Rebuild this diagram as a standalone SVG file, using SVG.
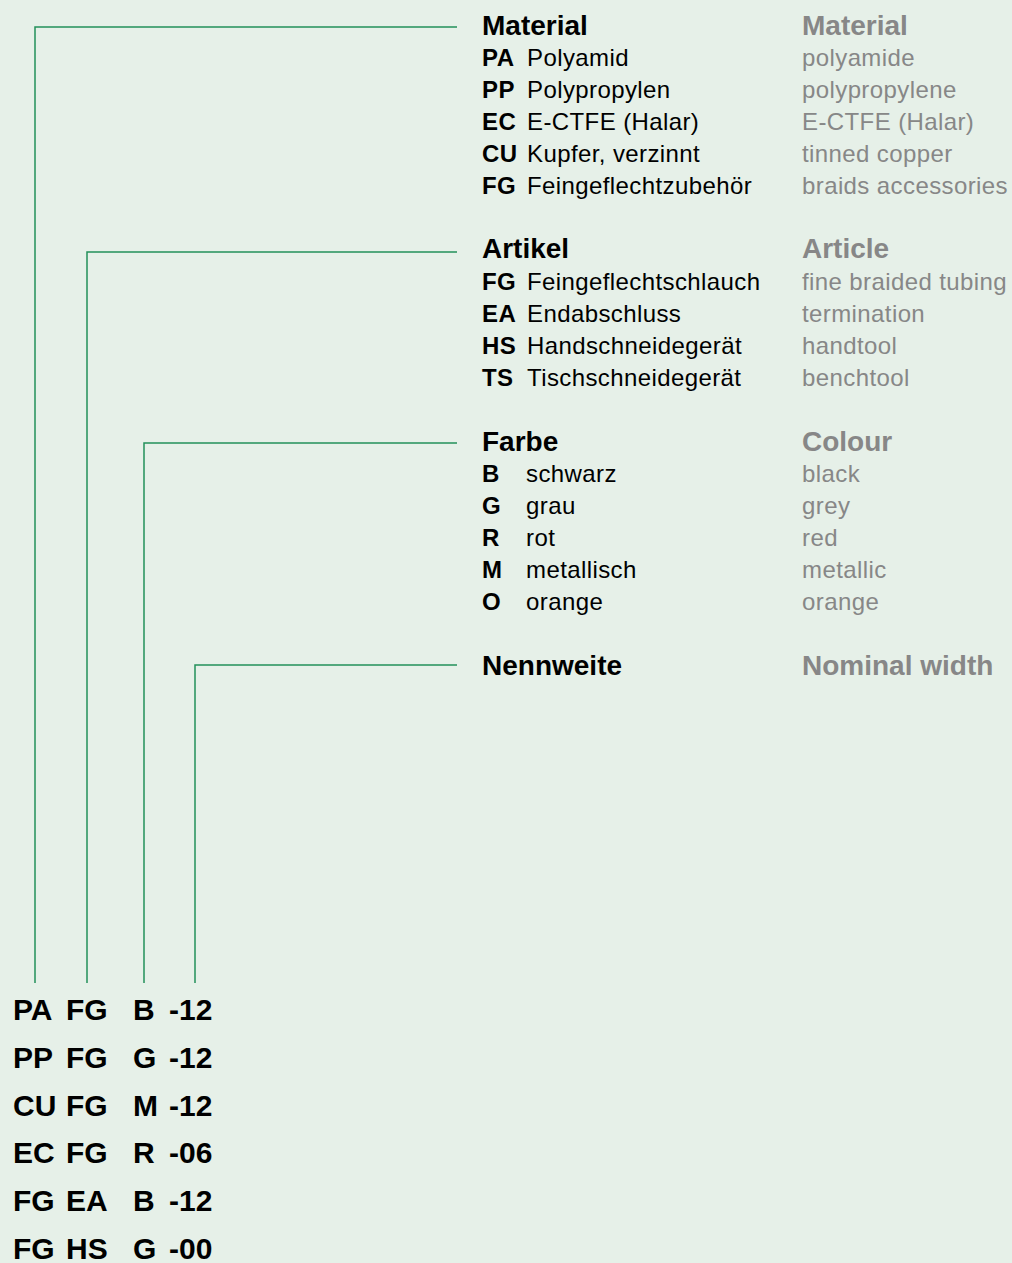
<svg xmlns="http://www.w3.org/2000/svg" width="1012" height="1263" viewBox="0 0 1012 1263">
<style>
text{font-family:"Liberation Sans",Arial,Helvetica,sans-serif}
.h{font-size:28px;font-weight:bold;fill:#000}
.hg{font-size:28px;font-weight:bold;fill:#878787}
.c{font-size:24px;font-weight:bold;fill:#000;letter-spacing:0.4px}
.t{font-size:24px;fill:#000;letter-spacing:0.4px}
.g{font-size:24px;fill:#878787;letter-spacing:0.4px}
.code{font-size:30px;font-weight:bold;fill:#000}
.conn{fill:none;stroke:#23905a;stroke-width:1.5}
</style>
<rect width="1012" height="1263" fill="#e6f0e8"/>
<g id="connectors">
<path class="conn" d="M35,983 V27 H457"/>
<path class="conn" d="M87,983 V252 H457"/>
<path class="conn" d="M144,983 V443 H457"/>
<path class="conn" d="M195,983 V665 H457"/>
</g>
<g id="material">
<text class="h" x="482" y="35">Material</text>
<text class="hg" x="802" y="35">Material</text>
<text class="c" x="482" y="66">PA</text><text class="t" x="527" y="66">Polyamid</text><text class="g" x="802" y="66">polyamide</text>
<text class="c" x="482" y="98">PP</text><text class="t" x="527" y="98">Polypropylen</text><text class="g" x="802" y="98">polypropylene</text>
<text class="c" x="482" y="130">EC</text><text class="t" x="527" y="130">E-CTFE (Halar)</text><text class="g" x="802" y="130">E-CTFE (Halar)</text>
<text class="c" x="482" y="162">CU</text><text class="t" x="527" y="162">Kupfer, verzinnt</text><text class="g" x="802" y="162">tinned copper</text>
<text class="c" x="482" y="194">FG</text><text class="t" x="527" y="194">Feingeflechtzubehör</text><text class="g" x="802" y="194">braids accessories</text>
</g>
<g id="artikel">
<text class="h" x="482" y="258">Artikel</text>
<text class="hg" x="802" y="258">Article</text>
<text class="c" x="482" y="290">FG</text><text class="t" x="527" y="290">Feingeflechtschlauch</text><text class="g" x="802" y="290">fine braided tubing</text>
<text class="c" x="482" y="322">EA</text><text class="t" x="527" y="322">Endabschluss</text><text class="g" x="802" y="322">termination</text>
<text class="c" x="482" y="354">HS</text><text class="t" x="527" y="354">Handschneidegerät</text><text class="g" x="802" y="354">handtool</text>
<text class="c" x="482" y="386">TS</text><text class="t" x="527" y="386">Tischschneidegerät</text><text class="g" x="802" y="386">benchtool</text>
</g>
<g id="farbe">
<text class="h" x="482" y="451">Farbe</text>
<text class="hg" x="802" y="451">Colour</text>
<text class="c" x="482" y="482">B</text><text class="t" x="526" y="482">schwarz</text><text class="g" x="802" y="482">black</text>
<text class="c" x="482" y="514">G</text><text class="t" x="526" y="514">grau</text><text class="g" x="802" y="514">grey</text>
<text class="c" x="482" y="546">R</text><text class="t" x="526" y="546">rot</text><text class="g" x="802" y="546">red</text>
<text class="c" x="482" y="578">M</text><text class="t" x="526" y="578">metallisch</text><text class="g" x="802" y="578">metallic</text>
<text class="c" x="482" y="610">O</text><text class="t" x="526" y="610">orange</text><text class="g" x="802" y="610">orange</text>
</g>
<g id="nennweite">
<text class="h" x="482" y="675">Nennweite</text>
<text class="hg" x="802" y="675">Nominal width</text>
</g>
<g id="codes">
<text class="code" y="1020"><tspan x="13">PA</tspan><tspan x="66">FG</tspan><tspan x="133">B</tspan><tspan x="169">-12</tspan></text>
<text class="code" y="1068"><tspan x="13">PP</tspan><tspan x="66">FG</tspan><tspan x="133">G</tspan><tspan x="169">-12</tspan></text>
<text class="code" y="1116"><tspan x="13">CU</tspan><tspan x="66">FG</tspan><tspan x="133">M</tspan><tspan x="169">-12</tspan></text>
<text class="code" y="1163"><tspan x="13">EC</tspan><tspan x="66">FG</tspan><tspan x="133">R</tspan><tspan x="169">-06</tspan></text>
<text class="code" y="1211"><tspan x="13">FG</tspan><tspan x="66">EA</tspan><tspan x="133">B</tspan><tspan x="169">-12</tspan></text>
<text class="code" y="1259"><tspan x="13">FG</tspan><tspan x="66">HS</tspan><tspan x="133">G</tspan><tspan x="169">-00</tspan></text>
</g>
</svg>
